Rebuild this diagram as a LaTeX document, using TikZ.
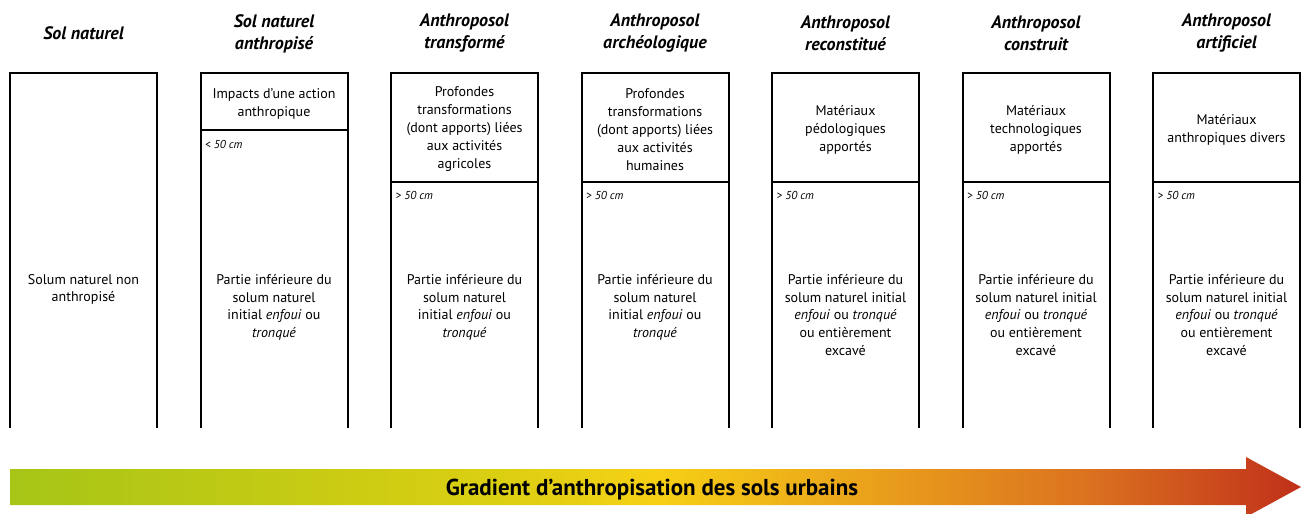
\documentclass[tikz,border=0pt]{standalone}
\usepackage{fontspec}
\setmainfont{PT Sans}
\definecolor{gA}{HTML}{A6C516}
\definecolor{gB}{HTML}{DCCF12}
\definecolor{gC}{HTML}{F6D015}
\definecolor{gD}{HTML}{E89A1C}
\definecolor{gE}{HTML}{DA701F}
\definecolor{gF}{HTML}{C0301A}
\pgfdeclarehorizontalshading{antgrad}{100bp}{color(0bp)=(gA); color(25bp)=(gA); color(44bp)=(gB); color(50bp)=(gC); color(59.5bp)=(gD); color(67bp)=(gE); color(75bp)=(gF); color(100bp)=(gF)}
\tikzset{
  colbox/.style={line width=2pt, line join=miter},
  divline/.style={line width=2pt},
  titletxt/.style={font=\fontsize{18}{22}\selectfont\bfseries\itshape, align=center, inner sep=0pt},
  toptxt/.style={font=\fontsize{14}{18}\selectfont, align=center, inner sep=0pt},
  bottxt/.style={font=\fontsize{14}{17.8}\selectfont, align=center, inner sep=0pt, anchor=north},
  depthtxt/.style={font=\fontsize{11.5}{13}\selectfont\itshape, anchor=west, inner sep=0pt},
  gradtxt/.style={font=\fontsize{23}{26}\selectfont\bfseries, inner sep=0pt},
}
\begin{document}
\begin{tikzpicture}[x=1pt,y=-1pt]
\useasboundingbox (0,0) rectangle (1304,514);

% column outlines (open at bottom)
\foreach \xl [count=\i] in {10,200.5,391,581.5,772,962.5,1153}{
  \coordinate (c\i bl) at (\xl,428);
  \coordinate (c\i tl) at (\xl,73);
  \coordinate (c\i tr) at (\xl+147,73);
  \coordinate (c\i br) at (\xl+147,428);
  \draw[colbox] (c\i bl) -- (c\i tl) -- (c\i tr) -- (c\i br);
}
% dividers
\coordinate (d2l) at (200.5,130); \coordinate (d2r) at (347.5,130);
\draw[divline] (d2l) -- (d2r);
\foreach \xl [count=\i from 3] in {391,581.5,772,962.5,1153}{
  \coordinate (d\i l) at (\xl,182);
  \coordinate (d\i r) at (\xl+147,182);
  \draw[divline] (d\i l) -- (d\i r);
}

% titles
\node[titletxt] (t1) at (83.5,33.5) {Sol naturel};
\node[titletxt] (t2) at (274,33.5) {Sol naturel\\anthropisé};
\node[titletxt] (t3) at (464.5,33.5) {Anthroposol\\transformé};
\node[titletxt] (t4) at (655,33.5) {Anthroposol\\archéologique};
\node[titletxt] (t5) at (845.5,33.5) {Anthroposol\\reconstitué};
\node[titletxt] (t6) at (1036,33.5) {Anthroposol\\construit};
\node[titletxt] (t7) at (1226.5,33.5) {Anthroposol\\artificiel};

% top horizon texts
\node[toptxt] (h2) at (274,104) {Impacts d’une action\\anthropique};
\node[toptxt] (h3) at (464.5,129.5) {Profondes\\transformations\\(dont apports) liées\\aux activités\\agricoles};
\node[toptxt] (h4) at (655,129.5) {Profondes\\transformations\\(dont apports) liées\\aux activités\\humaines};
\node[toptxt] (h5) at (845.5,129.5) {Matériaux\\pédologiques\\apportés};
\node[toptxt] (h6) at (1036,129.5) {Matériaux\\technologiques\\apportés};
\node[toptxt] (h7) at (1226.5,129.5) {Matériaux\\anthropiques divers};

% depth labels
\node[depthtxt] (p2) at (205,144) {< 50 cm};
\node[depthtxt] (p3) at (395.5,195) {> 50 cm};
\node[depthtxt] (p4) at (586,195) {> 50 cm};
\node[depthtxt] (p5) at (776.5,195) {> 50 cm};
\node[depthtxt] (p6) at (967,195) {> 50 cm};
\node[depthtxt] (p7) at (1157.5,195) {> 50 cm};

% lower texts
\node[bottxt] (b1) at (83.5,274) {Solum naturel non\\anthropisé};
\node[bottxt] (b2) at (274,274) {Partie inférieure du\\solum naturel\\initial \textit{enfoui} ou\\\textit{tronqué}};
\node[bottxt] (b3) at (464.5,274) {Partie inférieure du\\solum naturel\\initial \textit{enfoui} ou\\\textit{tronqué}};
\node[bottxt] (b4) at (655,274) {Partie inférieure du\\solum naturel\\initial \textit{enfoui} ou\\\textit{tronqué}};
\node[bottxt] (b5) at (845.5,274) {Partie inférieure du\\solum naturel initial\\\textit{enfoui} ou \textit{tronqué}\\ou entièrement\\excavé};
\node[bottxt] (b6) at (1036,274) {Partie inférieure du\\solum naturel initial\\\textit{enfoui} ou \textit{tronqué}\\ou entièrement\\excavé};
\node[bottxt] (b7) at (1226.5,274) {Partie inférieure du\\solum naturel initial\\\textit{enfoui} ou \textit{tronqué}\\ou entièrement\\excavé};

% gradient arrow
\shade[shading=antgrad] (10,469) -- (1246,469) -- (1246,457) -- (1301,487) -- (1246,517) -- (1246,505) -- (10,505) -- cycle;
\node[gradtxt] (g) at (652,490) {Gradient d’anthropisation des sols urbains};
\end{tikzpicture}
\end{document}
